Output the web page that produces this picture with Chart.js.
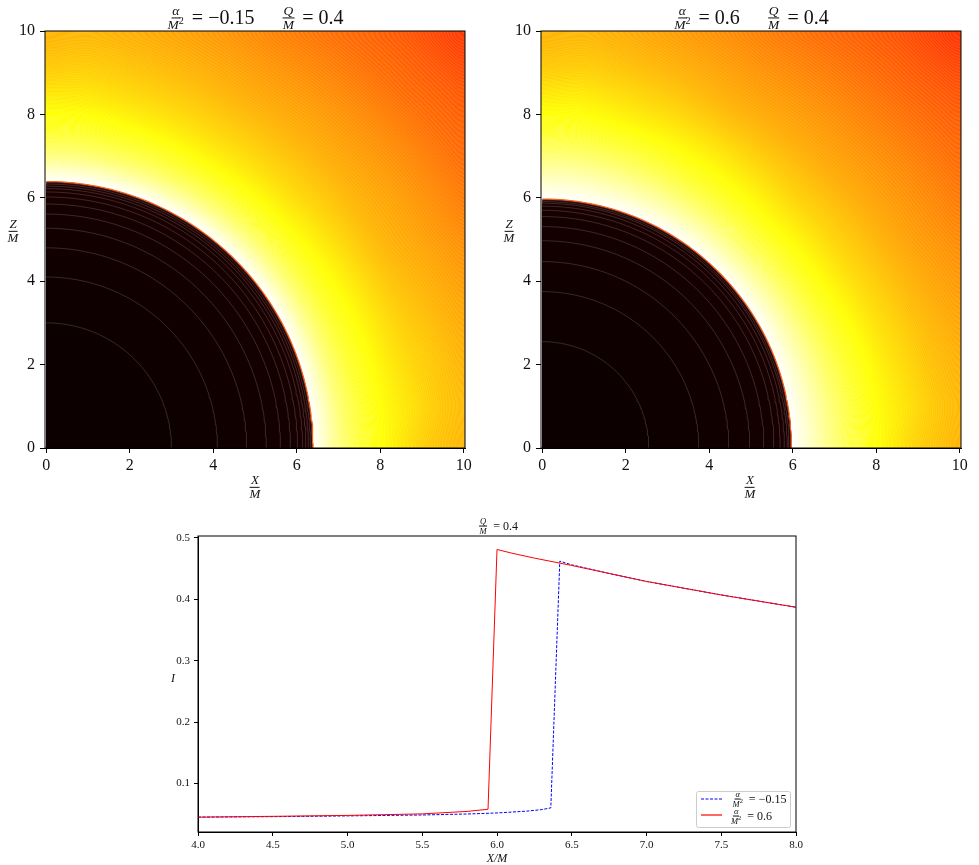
<!DOCTYPE html>
<html>
<head>
<meta charset="utf-8">
<title>Intensity maps</title>
<script src="https://cdn.jsdelivr.net/npm/chart.js@4"></script>
<style>
body { margin: 0; background: #fff; width: 979px; height: 865px; position: relative; overflow: hidden; font-family: "Liberation Serif", serif; color: #111; }
canvas { position: absolute; }
.m { position: absolute; display: flex; align-items: center; white-space: nowrap; }
.m i { font-style: italic; }
.frac { display: inline-flex; flex-direction: column; align-items: center; line-height: 0.82; margin: 0 3px; font-style: italic; }
.frac span:first-child { border-bottom: 1px solid #111; padding: 0 1px 1px; }
.frac span:last-child { padding-top: 1px; }
.frac sup { font-size: 75%; line-height: 0; font-style: normal; }
.big { font-size: 20px; } .big .frac { font-size: 13.5px; }
.side .frac { font-size: 13px; }
.small { font-size: 12px; } .small .frac { font-size: 8.5px; }
</style>
</head>
<body>
<canvas id="mapLeft" width="490" height="500" style="left:0;top:0"></canvas>
<canvas id="mapRight" width="489" height="500" style="left:490px;top:0"></canvas>
<canvas id="profile" width="700" height="355" style="left:150px;top:510px"></canvas>

<script>
// tick labels
const mapTicks = [0, 2, 4, 6, 8, 10];
const profileXTicks = [4, 4.5, 5, 5.5, 6, 6.5, 7, 7.5, 8];
const profileYTicks = [0.1, 0.2, 0.3, 0.4, 0.5];

// line profiles
const blueX = [4, 4.5, 5, 5.5, 5.8, 6, 6.2, 6.3, 6.36, 6.42, 6.5, 6.75, 7, 7.25, 7.5, 7.75, 8];
const blueI = [0.0452, 0.0460, 0.0472, 0.0487, 0.0503, 0.052, 0.055, 0.0575, 0.0603, 0.462, 0.456, 0.442, 0.429, 0.418, 0.407, 0.397, 0.387];
const redX = [4, 4.5, 5, 5.5, 5.8, 5.94, 6, 6.1, 6.25, 6.5, 6.75, 7, 7.25, 7.5, 7.75, 8];
const redI = [0.0452, 0.0465, 0.048, 0.0505, 0.0545, 0.058, 0.481, 0.475, 0.467, 0.455, 0.442, 0.429, 0.418, 0.407, 0.397, 0.387];

// contour radii inside the dark disc, last one is the disc edge
const ringsLeft = [3.0, 4.1, 4.8, 5.27, 5.61, 5.85, 6.02, 6.14, 6.22, 6.28, 6.33, 6.37, 6.39];
const ringsRight = [2.55, 3.75, 4.47, 4.97, 5.31, 5.55, 5.70, 5.80, 5.87, 5.91, 5.95, 5.97];

// brightness (hot colormap position), by radius (rows) and angle in degrees (columns)
const thetaGrid = [0, 6, 15, 30, 45, 60, 75, 84, 90];
const radiusLeft = [6.4, 7, 7.5, 8, 8.5, 9, 9.5, 10, 11, 12, 13, 14.2];
const fieldLeft = [
  [1.00, 1.00, 1.00, 1.00, 1.00, 1.00, 1.00, 1.00, 1.00],
  [0.87, 0.87, 0.86, 0.86, 0.86, 0.86, 0.86, 0.87, 0.87],
  [0.80, 0.80, 0.79, 0.78, 0.78, 0.78, 0.79, 0.80, 0.80],
  [0.75, 0.75, 0.75, 0.74, 0.73, 0.73, 0.74, 0.75, 0.75],
  [0.71, 0.72, 0.71, 0.70, 0.69, 0.69, 0.70, 0.71, 0.71],
  [0.67, 0.69, 0.68, 0.66, 0.66, 0.66, 0.67, 0.68, 0.67],
  [0.65, 0.66, 0.66, 0.63, 0.63, 0.63, 0.645, 0.655, 0.645],
  [0.635, 0.645, 0.635, 0.615, 0.61, 0.61, 0.625, 0.635, 0.63],
  [0.60, 0.61, 0.60, 0.575, 0.57, 0.57, 0.59, 0.60, 0.60],
  [0.57, 0.58, 0.56, 0.53, 0.525, 0.53, 0.55, 0.57, 0.57],
  [0.54, 0.55, 0.53, 0.50, 0.495, 0.50, 0.52, 0.54, 0.54],
  [0.50, 0.51, 0.49, 0.46, 0.44, 0.46, 0.48, 0.50, 0.50]
];
const radiusRight = [5.97, 6.5, 7, 7.5, 8, 8.5, 9, 9.5, 10, 11, 12, 13, 14.2];
const fieldRight = [
  [1.00, 1.00, 1.00, 1.00, 1.00, 1.00, 1.00, 1.00, 1.00],
  [0.93, 0.93, 0.92, 0.91, 0.90, 0.91, 0.92, 0.93, 0.93],
  [0.86, 0.86, 0.85, 0.83, 0.82, 0.83, 0.85, 0.86, 0.86],
  [0.80, 0.80, 0.79, 0.77, 0.76, 0.77, 0.79, 0.80, 0.80],
  [0.75, 0.75, 0.75, 0.73, 0.72, 0.73, 0.74, 0.75, 0.75],
  [0.71, 0.72, 0.71, 0.69, 0.68, 0.69, 0.70, 0.72, 0.71],
  [0.67, 0.69, 0.68, 0.66, 0.65, 0.65, 0.67, 0.68, 0.67],
  [0.65, 0.66, 0.65, 0.63, 0.62, 0.62, 0.64, 0.655, 0.645],
  [0.63, 0.64, 0.63, 0.605, 0.60, 0.60, 0.62, 0.635, 0.63],
  [0.60, 0.61, 0.59, 0.57, 0.56, 0.56, 0.58, 0.60, 0.60],
  [0.57, 0.58, 0.56, 0.53, 0.52, 0.52, 0.55, 0.57, 0.57],
  [0.54, 0.55, 0.53, 0.50, 0.485, 0.49, 0.52, 0.54, 0.54],
  [0.50, 0.51, 0.49, 0.46, 0.43, 0.45, 0.48, 0.50, 0.50]
];

// matplotlib "hot"
const hot = (t) => {
  const r = Math.min(1, 0.0416 + t / 0.365 * 0.9584);
  const g = Math.max(0, Math.min(1, (t - 0.365) / 0.381));
  const b = Math.max(0, Math.min(1, (t - 0.746) / 0.254));
  return [r * 255, g * 255, b * 255];
};

const lookup = (grid, v) => {
  let i = 0;
  while (i < grid.length - 2 && v > grid[i + 1]) i++;
  return [i, (v - grid[i]) / (grid[i + 1] - grid[i])];
};

// running box average along rows or columns, softens the kinks of the table shading
const boxPass = (buf, step, count, lineStep, lines, rad) => {
  const tmp = new Float32Array(count);
  for (let l = 0; l < lines; l++) {
    const base = l * lineStep;
    let sum = 0, n = 0;
    for (let i = 0; i <= rad && i < count; i++) { sum += buf[base + i * step]; n++; }
    for (let i = 0; i < count; i++) {
      tmp[i] = sum / n;
      if (i + rad + 1 < count) { sum += buf[base + (i + rad + 1) * step]; n++; }
      if (i - rad >= 0) { sum -= buf[base + (i - rad) * step]; n--; }
    }
    for (let i = 0; i < count; i++) buf[base + i * step] = tmp[i];
  }
};

// paints the map under the datasets, going through the chart's own scales
const fieldPlugin = (radius, field) => ({
  id: 'field',
  beforeDatasetsDraw(chart) {
    const {ctx, chartArea: a, scales} = chart;
    const w = Math.round(a.right - a.left), h = Math.round(a.bottom - a.top);
    const vals = new Float32Array(w * h);
    for (let py = 0; py < h; py++) {
      const z = scales.y.getValueForPixel(a.top + py + 0.5);
      for (let px = 0; px < w; px++) {
        const x = scales.x.getValueForPixel(a.left + px + 0.5);
        const r = Math.hypot(x, z);
        const th = Math.atan2(Math.max(z, 0), Math.max(x, 0)) * 180 / Math.PI;
        const [i, fi] = lookup(radius, r);
        const [j, fj] = lookup(thetaGrid, th);
        vals[py * w + px] = (field[i][j] * (1 - fj) + field[i][j + 1] * fj) * (1 - fi)
                          + (field[i + 1][j] * (1 - fj) + field[i + 1][j + 1] * fj) * fi;
      }
    }
    for (let pass = 0; pass < 2; pass++) {
      boxPass(vals, 1, w, w, h, 6);
      boxPass(vals, w, h, 1, w, 6);
    }
    const img = ctx.createImageData(w, h);
    for (let k = 0; k < w * h; k++) {
      const t = vals[k];
      const c = hot(t);
      // thin pale seams between the filled contour levels
      const seam = 0.05 * (1 + Math.cos(2 * Math.PI * t * 400));
      img.data[k * 4] = c[0] + (255 - c[0]) * seam;
      img.data[k * 4 + 1] = c[1] + (255 - c[1]) * seam;
      img.data[k * 4 + 2] = c[2] + (255 - c[2]) * seam;
      img.data[k * 4 + 3] = 255;
    }
    ctx.putImageData(img, Math.round(a.left), Math.round(a.top));
  }
});

const framePlugin = {
  id: 'frame',
  afterDraw(chart) {
    const {ctx, chartArea: a} = chart;
    ctx.save();
    ctx.strokeStyle = '#000';
    ctx.lineWidth = 1;
    ctx.strokeRect(a.left, a.top, a.right - a.left, a.bottom - a.top);
    ctx.restore();
  }
};

// legend box and line samples, colours come from the chart's datasets
const legendPlugin = {
  id: 'legendBox',
  afterDraw(chart) {
    const {ctx} = chart;
    const [red, blue] = chart.data.datasets;
    ctx.save();
    ctx.fillStyle = 'rgba(255,255,255,0.9)';
    ctx.strokeStyle = '#ccc';
    ctx.beginPath();
    ctx.roundRect(546.5, 281.5, 94, 36, 2);
    ctx.fill();
    ctx.stroke();
    ctx.lineWidth = 1.2;
    ctx.strokeStyle = blue.borderColor;
    ctx.setLineDash(blue.borderDash);
    ctx.beginPath();
    ctx.moveTo(551, 289);
    ctx.lineTo(572, 289);
    ctx.stroke();
    ctx.strokeStyle = red.borderColor;
    ctx.setLineDash([]);
    ctx.beginPath();
    ctx.moveTo(551, 305);
    ctx.lineTo(572, 305);
    ctx.stroke();
    ctx.restore();
  }
};

const quarter = (r) => {
  const pts = [];
  for (let d = 0; d <= 90; d += 1) {
    pts.push({x: r * Math.cos(d * Math.PI / 180), y: r * Math.sin(d * Math.PI / 180)});
  }
  return pts;
};

// index 0 is drawn on top, so the smallest disc comes first
const ringSets = (rings) => rings.map((r, idx) => {
  const last = idx === rings.length - 1;
  const c = hot(0.004 + idx * 0.0022);
  return {
    label: 'r=' + r,
    data: quarter(r),
    showLine: true,
    pointRadius: 0,
    fill: 'origin',
    backgroundColor: `rgb(${c[0]},${c[1]},${c[2]})`,
    borderColor: last ? '#ff5a10' : 'rgba(175,150,150,0.38)',
    borderWidth: last ? 1.3 : 0.7
  };
});

const axisFont = (size) => ({family: '"Liberation Serif", serif', size: size});

const mapChart = (id, rings, radius, field, yWidth, rightPad) => new Chart(document.getElementById(id), {
  type: 'scatter',
  data: {datasets: ringSets(rings)},
  plugins: [fieldPlugin(radius, field), framePlugin],
  options: {
    responsive: false,
    animation: false,
    events: [],
    layout: {padding: {top: 31, right: rightPad, left: 0, bottom: 0}},
    plugins: {legend: {display: false}, title: {display: false}, tooltip: {enabled: false}},
    scales: {
      x: {
        type: 'linear', min: -0.03, max: 10.03,
        afterBuildTicks: (s) => { s.ticks = mapTicks.map((v) => ({value: v})); },
        afterFit: (s) => { s.height = 52; },
        grid: {drawOnChartArea: false, tickLength: 5, tickColor: '#000'},
        border: {color: '#000'},
        ticks: {color: '#111', font: axisFont(16), padding: 3, maxRotation: 0}
      },
      y: {
        type: 'linear', min: 0, max: 10,
        afterBuildTicks: (s) => { s.ticks = mapTicks.map((v) => ({value: v})); },
        afterFit: (s) => { s.width = yWidth; },
        grid: {drawOnChartArea: false, tickLength: 5, tickColor: '#000'},
        border: {color: '#000'},
        ticks: {color: '#111', font: axisFont(16), padding: 5}
      }
    }
  }
});

mapChart('mapLeft', ringsLeft, radiusLeft, fieldLeft, 45, 25);
mapChart('mapRight', ringsRight, radiusRight, fieldRight, 51, 18);

const toPoints = (xs, ys) => xs.map((x, i) => ({x: x, y: ys[i]}));

new Chart(document.getElementById('profile'), {
  type: 'scatter',
  data: {
    datasets: [
      {label: 'α/M² = 0.6', data: toPoints(redX, redI), showLine: true, pointRadius: 0, borderColor: '#ff0000', borderWidth: 1},
      {label: 'α/M² = −0.15', data: toPoints(blueX, blueI), showLine: true, pointRadius: 0, borderColor: '#0000ff', borderWidth: 1, borderDash: [3, 1.5]}
    ]
  },
  plugins: [framePlugin, legendPlugin],
  options: {
    responsive: false,
    animation: false,
    events: [],
    layout: {padding: {top: 26, right: 54, left: 0, bottom: 0}},
    plugins: {legend: {display: false}, title: {display: false}, tooltip: {enabled: false}},
    scales: {
      x: {
        type: 'linear', min: 4, max: 8,
        afterBuildTicks: (s) => { s.ticks = profileXTicks.map((v) => ({value: v})); },
        afterFit: (s) => { s.height = 33; },
        grid: {drawOnChartArea: false, tickLength: 4, tickColor: '#000'},
        border: {color: '#000'},
        ticks: {color: '#111', font: axisFont(11), padding: 3, maxRotation: 0, callback: (v) => v.toFixed(1)}
      },
      y: {
        type: 'linear', min: 0.021, max: 0.503,
        afterBuildTicks: (s) => { s.ticks = profileYTicks.map((v) => ({value: v})); },
        afterFit: (s) => { s.width = 48; },
        grid: {drawOnChartArea: false, tickLength: 4, tickColor: '#000'},
        border: {color: '#000'},
        ticks: {color: '#111', font: axisFont(11), padding: 4, callback: (v) => v.toFixed(1)}
      }
    }
  }
});

const frac = (a, b) => `<span class="frac"><span>${a}</span><span>${b}</span></span>`;
const label = (html, cls, x, y) => {
  const el = document.createElement('div');
  el.className = 'm ' + cls;
  el.innerHTML = html;
  el.style.left = x + 'px';
  el.style.top = y + 'px';
  el.style.transform = 'translate(-50%, -50%)';
  document.body.appendChild(el);
};
const alphaFrac = frac('α', 'M<sup>2</sup>');
const qFrac = frac('Q', 'M');

label(`${alphaFrac}&nbsp;= −0.15 &nbsp;&nbsp;&nbsp;&nbsp;${qFrac}&nbsp;= 0.4`, 'big', 254, 18);
label(`${alphaFrac}&nbsp;= 0.6 &nbsp;&nbsp;&nbsp;&nbsp;${qFrac}&nbsp;= 0.4`, 'big', 750, 18);
label(frac('X', 'M'), 'side', 255, 487);
label(frac('X', 'M'), 'side', 750, 487);
label(frac('Z', 'M'), 'side', 13, 231);
label(frac('Z', 'M'), 'side', 509, 231);
label(`${qFrac}&nbsp;= 0.4`, 'small', 497, 526);
label('<i>X/M</i>', 'small', 497, 858);
label('<i>I</i>', 'small', 173, 678);
label(`${alphaFrac}&nbsp;= −0.15`, 'small', 758, 799);
label(`${alphaFrac}&nbsp;= 0.6`, 'small', 750, 816);
</script>
</body>
</html>
